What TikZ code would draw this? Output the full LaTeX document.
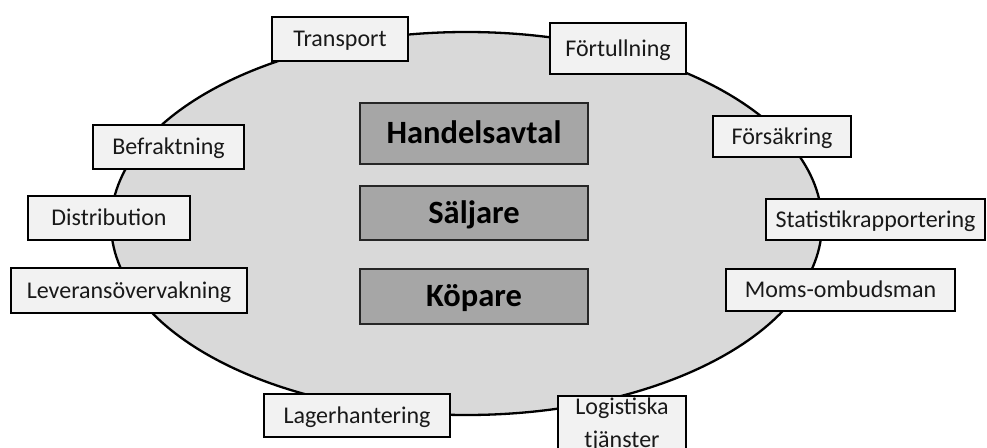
\documentclass[tikz,border=0pt]{standalone}
\usepackage{fontspec}
\setmainfont{Carlito}
\usetikzlibrary{shapes.geometric}
\definecolor{ovalfill}{HTML}{D9D9D9}
\definecolor{corefill}{HTML}{A6A6A6}
\definecolor{tagfill}{HTML}{F2F2F2}
\tikzset{
  tagbox/.style={draw=black, line width=1.7pt, fill=tagfill, inner sep=0pt,
    font=\fontsize{24}{30}\selectfont, text=black!90, align=center,
    text depth=2.8pt, text height=18pt},
  corebox/.style={draw=black!85, line width=1.7pt, fill=corefill, inner sep=0pt,
    font=\fontsize{32.5}{38}\selectfont\bfseries, text=black, minimum width=228pt,
    text depth=3.4pt, text height=24pt},
}
\begin{document}
\begin{tikzpicture}[x=1pt,y=-1pt]
\useasboundingbox (0,0) rectangle (987,447);
\clip (0,0) rectangle (987,447);
\node[ellipse, draw=black, line width=2.3pt, fill=ovalfill, inner sep=0pt,
  minimum width=711pt, minimum height=383pt] (oval) at (466.5,223.5) {};
\node[corebox, minimum height=61pt] (handel) at (474,133.5) {Handelsavtal};
\node[corebox, minimum height=54pt] (saljare) at (474,213) {Säljare};
\node[corebox, minimum height=55pt] (kopare) at (474,296.5) {Köpare};
\node[tagbox, minimum width=136pt, minimum height=44pt] (transport) at (340,39) {Transport};
\node[tagbox, minimum width=136pt, minimum height=51pt] (fortull) at (618,48.5) {Förtullning};
\node[tagbox, minimum width=151pt, minimum height=44pt] (befrakt) at (168.5,147) {Befraktning};
\node[tagbox, minimum width=138pt, minimum height=41pt] (forsakr) at (782,136.5) {Försäkring};
\node[tagbox, minimum width=162pt, minimum height=44pt] (distr) at (109,218) {Distribution};
\node[tagbox, minimum width=219pt, minimum height=41pt] (statist) at (875.5,219.5) {Statistikrapportering};
\node[tagbox, minimum width=236pt, minimum height=45pt] (leverans) at (129,290.5) {Leveransövervakning};
\node[tagbox, minimum width=229pt, minimum height=42pt] (moms) at (840.5,290) {Moms-ombudsman};
\node[tagbox, minimum width=186pt, minimum height=43pt] (lager) at (357,415.5) {Lagerhantering};
\node[tagbox, minimum width=128pt, minimum height=58pt, text height=, text depth=,
  font=\fontsize{24}{33}\selectfont] (logist) at (622,425) {Logistiska\\tjänster};
\end{tikzpicture}
\end{document}
